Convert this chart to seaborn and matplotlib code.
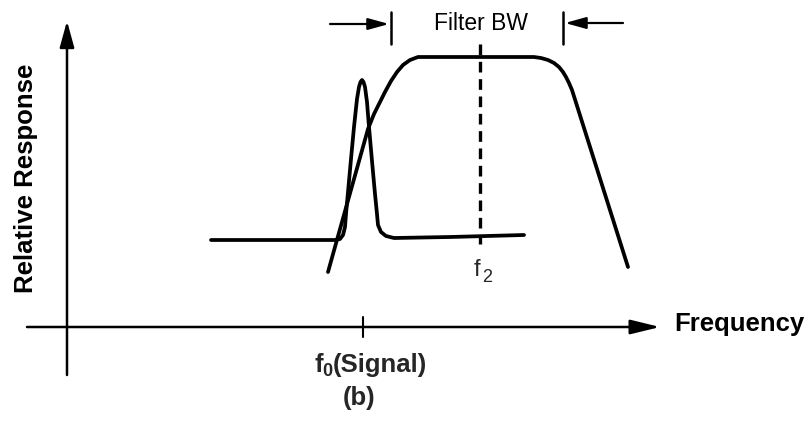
import matplotlib
matplotlib.use("Agg")
import matplotlib.pyplot as plt
import seaborn as sns
import pandas as pd

# ---- data (in picture coordinates) ----
signal_x = [211, 335, 340, 343, 345, 346, 348, 351, 354, 357, 359, 360.5, 362, 363.5,
            365, 367, 369, 372, 375, 377, 378, 381, 386, 394, 450, 524]
signal_y = [241, 241, 240, 236, 228, 215, 193, 160, 128, 100, 88, 83, 81, 83,
            88, 103, 128, 162, 195, 215, 226, 233, 237, 239, 238, 236]

filter_x = [328, 368, 374, 380, 385, 391, 397, 403, 410, 418, 534, 541, 548,
            554, 559, 563, 566, 569, 572, 628]
filter_y = [273, 130, 115, 103, 93, 82, 73, 66, 61, 58, 58, 59, 61,
            64, 68, 73, 78, 84, 91, 268]

f0_x = 363
f2_x = 480
bw_left = 391
bw_right = 563

sns.set_theme(style="white")
plt.rcParams['font.family'] = ['Liberation Sans', 'DejaVu Sans']

fig = plt.figure(figsize=(8.09, 4.31), dpi=100)
ax = fig.add_axes([0, 0, 1, 1])
ax.set_xlim(0, 809)
ax.set_ylim(431, 0)
ax.axis('off')

sig = pd.DataFrame({"x": signal_x, "y": signal_y})
flt = pd.DataFrame({"x": filter_x, "y": filter_y})
sns.lineplot(data=sig, x="x", y="y", sort=False, ax=ax, color="black", lw=2.7)
sns.lineplot(data=flt, x="x", y="y", sort=False, ax=ax, color="black", lw=2.7)

# axes arrows
ax.annotate('', xy=(67, 22), xytext=(67, 376),
            arrowprops=dict(arrowstyle='-|>,head_length=0.8,head_width=0.22',
                            lw=1.8, color='black', shrinkA=0, shrinkB=0,
                            mutation_scale=20))
ax.annotate('', xy=(660, 328), xytext=(27, 328),
            arrowprops=dict(arrowstyle='-|>,head_length=0.9,head_width=0.22',
                            lw=1.8, color='black', shrinkA=0, shrinkB=0,
                            mutation_scale=20))

# f0 tick
ax.plot([f0_x, f0_x], [318, 338], color='black', lw=1.5)

# f2 dashed line
ax.plot([f2_x, f2_x], [45, 245], color='black', lw=2.4, dashes=(3.2, 2.0))

# filter BW bars and arrows
ax.plot([bw_left, bw_left], [13, 45], color='black', lw=1.8)
ax.plot([bw_right, bw_right], [13, 45], color='black', lw=1.8)
ax.annotate('', xy=(bw_left - 2, 25), xytext=(330, 25),
            arrowprops=dict(arrowstyle='-|>,head_length=0.9,head_width=0.25',
                            lw=1.6, color='black', shrinkA=0, shrinkB=0,
                            mutation_scale=14))
ax.annotate('', xy=(bw_right + 2, 24), xytext=(623, 24),
            arrowprops=dict(arrowstyle='-|>,head_length=0.9,head_width=0.25',
                            lw=1.6, color='black', shrinkA=0, shrinkB=0,
                            mutation_scale=14))

# texts
ax.text(481, 30, "Filter BW", ha='center', va='baseline', fontsize=16.5, color='black')
ax.text(26, 178, "Relative Response", rotation=90, ha='center', va='center',
        fontsize=18.5, fontweight='bold', color='black')
ax.text(674, 331, "Frequency", ha='left', va='baseline', fontsize=18.5,
        fontweight='bold', color='black')
ax.text(315, 372, "f", ha='left', va='baseline', fontsize=18.5, fontweight='bold')
ax.text(322, 376, "0", ha='left', va='baseline', fontsize=13, fontweight='bold')
ax.text(333, 372, "(Signal)", ha='left', va='baseline', fontsize=18.5, fontweight='bold')
ax.text(359, 405, "(b)", ha='center', va='baseline', fontsize=18.5, fontweight='bold')
ax.text(474, 276, "f", ha='left', va='baseline', fontsize=17)
ax.text(482, 282, "2", ha='left', va='baseline', fontsize=13)

fig.savefig("out.png", dpi=100)
